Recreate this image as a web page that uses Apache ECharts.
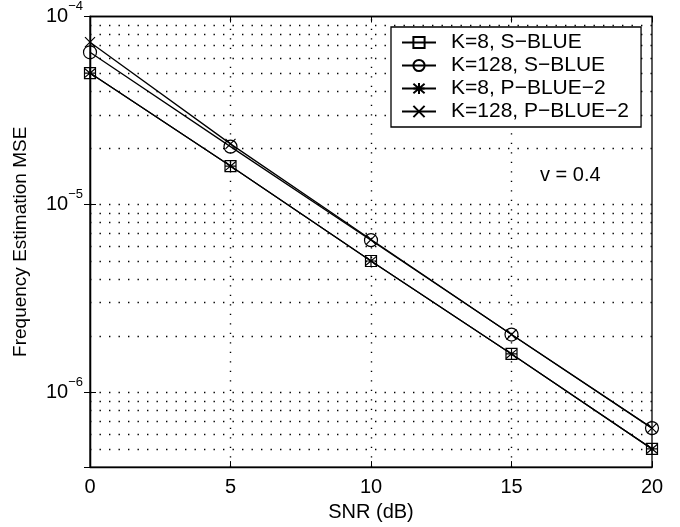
<!DOCTYPE html>
<html><head><meta charset="utf-8">
<script src="https://cdn.jsdelivr.net/npm/echarts@6/dist/echarts.min.js"></script>
<style>html,body{margin:0;padding:0;background:#fff}#c{width:680px;height:527px}</style>
</head><body><div id="c"></div>
<script>
const snr = [0, 5, 10, 15, 20];
const seriesNames = ['K=8, S\u2212BLUE', 'K=128, S\u2212BLUE', 'K=8, P\u2212BLUE\u22122', 'K=128, P\u2212BLUE\u22122'];
const k8S = [5.0e-5, 1.6e-5, 5.0e-6, 1.6e-6, 5.0e-7];
const k128S = [6.45e-5, 2.03e-5, 6.45e-6, 2.03e-6, 6.45e-7];
const k8P = [5.0e-5, 1.6e-5, 5.0e-6, 1.6e-6, 5.0e-7];
const k128P = [7.3e-5, 2.1e-5, 6.5e-6, 2.03e-6, 6.45e-7];
const xTicks = [0, 5, 10, 15, 20];
const yMin = 4e-7, yMax = 1e-4;
const annotation = 'v = 0.4';

const FONT = '"Liberation Sans", Arial, Helvetica, sans-serif';
const FS = 20;
const symAst = 'path://M0,0L10,10M10,0L0,10M5,-1L5,11M0,5L10,5';
const symX = 'path://M0,0L10,10M10,0L0,10';
const symbols = ['rect', 'circle', symAst, symX];
const sizes = [11, 13, 11, 10];
const datas = [k8S, k128S, k8P, k128P];

const hGrid = [];
for (let e = -7; e <= -4; e++) for (let m = 1; m <= 9; m++) {
  const v = m * Math.pow(10, e);
  if (v > yMin * 1.001 && v < yMax * 0.999) hGrid.push(v);
}
const vGrid = xTicks.slice(1, -1);
const dot = {color: '#000', width: 1.4, type: [1.4, 8.1]};

const series = datas.map((d, i) => ({
  name: seriesNames[i], type: 'line', data: snr.map((x, j) => [x, d[j]]),
  symbol: symbols[i], symbolSize: sizes[i], showAllSymbol: true,
  lineStyle: {color: '#000', width: 1.3},
  itemStyle: {color: 'rgba(0,0,0,0)', borderColor: '#000', borderWidth: 1.2},
  z: 5
}));
const xLo = xTicks[0], xHi = xTicks[xTicks.length - 1];
series[0].markLine = {
  silent: true, symbol: 'none', label: {show: false}, animation: false,
  lineStyle: dot, emphasis: {disabled: true},
  data: hGrid.map(v => [{coord: [xLo, v]}, {coord: [xHi, v]}])
    .concat(vGrid.map(v => [{coord: [v, yMin]}, {coord: [v, yMax]}]))
};

function yLab(v) {
  const l = Math.log10(v), e = Math.round(l);
  if (Math.abs(l - e) > 1e-6) return '';
  return '{b|10}{s|\u2212' + (-e) + '}';
}

const chart = echarts.init(document.getElementById('c'), null, {renderer: 'canvas'});
chart.setOption({
  animation: false,
  textStyle: {fontFamily: FONT},
  grid: {left: 90, right: 28, top: 16, bottom: 58, show: true, borderColor: '#000', borderWidth: 1.3, backgroundColor: 'transparent'},
  xAxis: [{
    type: 'value', min: 0, max: 20, interval: 5,
    name: 'SNR (dB)', nameLocation: 'middle', nameGap: 33,
    nameTextStyle: {fontSize: FS, color: '#000', fontFamily: FONT},
    axisLine: {show: true, lineStyle: {color: '#000', width: 1.3}},
    axisTick: {inside: true, length: 6, lineStyle: {color: '#000'}},
    axisLabel: {fontSize: FS, color: '#000', margin: 10, fontFamily: FONT},
    splitLine: {show: false}
  }, {
    type: 'value', min: 0, max: 20, interval: 5, position: 'top',
    axisLine: {show: true, lineStyle: {color: '#000', width: 1.3}},
    axisTick: {inside: true, length: 6, lineStyle: {color: '#000'}},
    axisLabel: {show: false}, splitLine: {show: false}
  }],
  yAxis: [{
    type: 'log', min: yMin, max: yMax, logBase: 10,
    name: 'Frequency Estimation MSE', nameLocation: 'middle', nameGap: 60,
    nameTextStyle: {fontSize: FS - 1, color: '#000', fontFamily: FONT},
    axisLine: {show: true, lineStyle: {color: '#000', width: 1.3}},
    axisTick: {inside: true, length: 6, lineStyle: {color: '#000'}},
    axisLabel: {
      color: '#000', margin: 7, formatter: yLab, showMinLabel: true,
      rich: {
        b: {fontSize: FS, fontFamily: FONT, color: '#000', lineHeight: 20},
        s: {fontSize: 13, fontFamily: FONT, color: '#000', lineHeight: 13, padding: [0, 0, 20, 0]}
      }
    },
    splitLine: {show: false}
  }, {
    type: 'log', min: yMin, max: yMax, logBase: 10, position: 'right',
    axisLine: {show: true, lineStyle: {color: '#000', width: 1.3}},
    axisTick: {inside: true, length: 6, lineStyle: {color: '#000'}},
    axisLabel: {show: false}, splitLine: {show: false}
  }],
  legend: {
    z: 50,
    left: 391, top: 27, orient: 'vertical',
    backgroundColor: '#fff', borderColor: '#000', borderWidth: 1.3,
    padding: [5, 12, 5, 10], itemGap: 2, itemWidth: 34, itemHeight: 14,
    textStyle: {fontSize: 21, color: '#000', fontFamily: FONT, padding: [0, 0, 0, 10]},
    data: seriesNames.map(n => ({name: n}))
  },
  graphic: [{
    type: 'text', left: 540, top: 165,
    style: {text: annotation, fontSize: FS, fontFamily: FONT, fill: '#000'}
  }],
  series: series
});
</script></body></html>
